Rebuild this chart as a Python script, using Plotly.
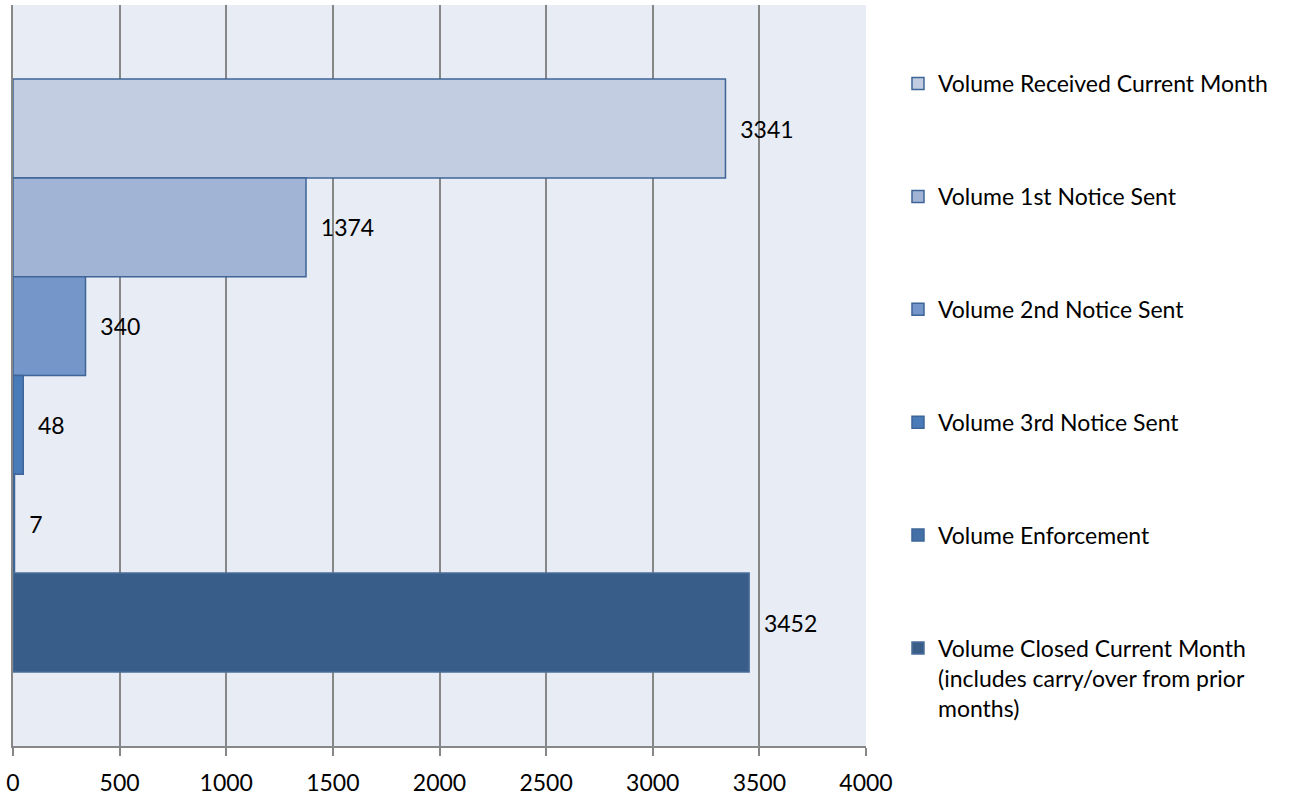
import plotly.graph_objects as go

series = ['Volume Received Current Month', 'Volume 1st Notice Sent', 'Volume 2nd Notice Sent',
          'Volume 3rd Notice Sent', 'Volume Enforcement',
          'Volume Closed Current Month<br>(includes carry/over from prior<br>months)']
values = [3341, 1374, 340, 48, 7, 3452]
colors = ['#C3CDE2', '#A2B4D6', '#7596C8', '#4A7BB9', '#4470A8', '#395D89']
borders = ['#3E6598', '#3E6598', '#3E6598', '#3E6598', '#3E6598', '#4A6D9A']
x_ticks = [0, 500, 1000, 1500, 2000, 2500, 3000, 3500, 4000]

fig = go.Figure()
for i, (name, v) in enumerate(zip(series, values)):
    fig.add_trace(go.Bar(
        x=[v], y=[0], name=name, orientation='h',
        marker=dict(color=colors[i], line=dict(color=borders[i], width=1.5)),
        text=['\u00a0\u00a0' + str(v)], textposition='outside',
        constraintext='none', cliponaxis=False,
        textfont=dict(color='black', size=23),
        legendgroup='g%d' % i,
    ))

fig.update_layout(
    width=1307, height=796,
    margin=dict(l=13, r=441, t=5, b=50, autoexpand=False),
    paper_bgcolor='white', plot_bgcolor='#E8ECF4',
    font=dict(family='Lato', size=23, color='black'),
    barmode='group', bargap=0.2, bargroupgap=0,
    showlegend=True,
    legend=dict(x=1.0375, y=0.923, xanchor='left', yanchor='top',
                traceorder='grouped', tracegroupgap=80, valign='top',
                font=dict(size=23), bgcolor='rgba(0,0,0,0)'),
    xaxis=dict(range=[0, 4000], tickvals=x_ticks, showgrid=True,
               gridcolor='#878787', gridwidth=1.5, showline=True,
               linecolor='#878787', linewidth=1.5, ticks='outside',
               ticklen=8, tickcolor='#878787', tickwidth=1.5, zeroline=False,
               tickfont=dict(size=23), ticklabelstandoff=8, automargin=False),
    yaxis=dict(range=[0.5, -0.5], showticklabels=False, showgrid=False,
               zeroline=False, showline=True, linecolor='#878787',
               linewidth=1.5, automargin=False),
)

# drop the default 8px page margin so the figure sits at the window corner
fig.write_html("out.html", config={'displayModeBar': False},
               post_script="document.body.style.margin='0';")
